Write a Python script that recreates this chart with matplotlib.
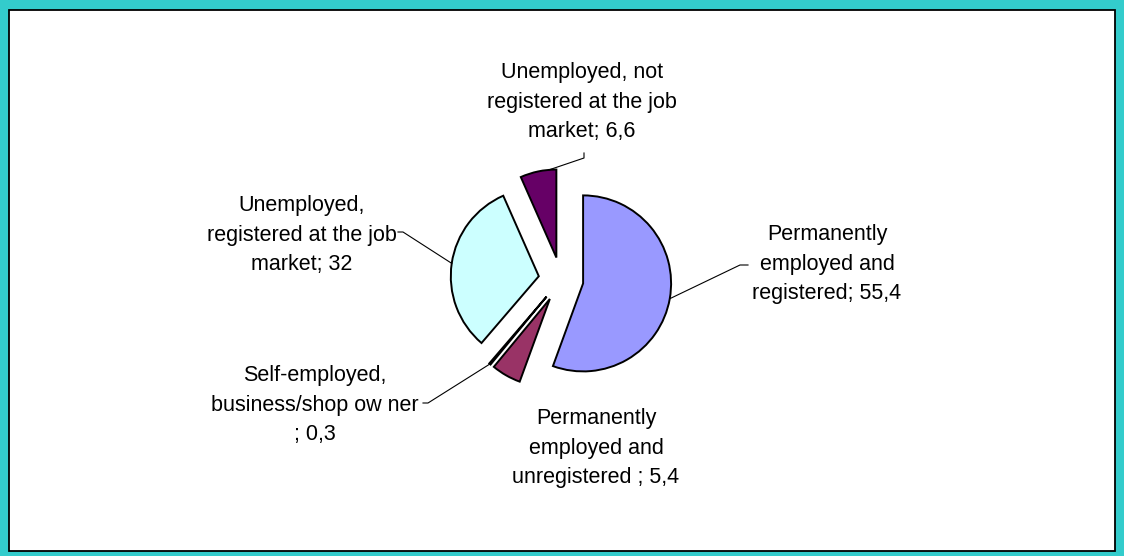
import numpy as np
import matplotlib
matplotlib.use("Agg")
import matplotlib.pyplot as plt
from matplotlib.patches import Rectangle

# Datos del gráfico (porcentajes)
categorias = [
    "Permanently\nemployed and\nregistered",
    "Permanently\nemployed and\nunregistered ",
    "Self-employed,\nbusiness/shop ow ner\n",
    "Unemployed,\nregistered at the job\nmarket",
    "Unemployed, not\nregistered at the job\nmarket",
]
valores = [55.4, 5.4, 0.3, 32, 6.6]
colores = ["#9999FF", "#993366", "#FFFFCC", "#CCFFFF", "#660066"]

# Lienzo en píxeles (y hacia arriba)
W, H = 1124, 556
fig = plt.figure(figsize=(W / 100, H / 100), dpi=100, facecolor="#33CCCC")
ax = fig.add_axes([0, 0, 1, 1])
ax.axis("off")

# Recuadro blanco del área del gráfico
ax.add_patch(Rectangle((9, H - 551), 1106, 541, facecolor="white",
                       edgecolor="black", linewidth=1.3, zorder=0))

centro = (561, H - 279.5)
R = 88
sep = 0.255 * R

ax.pie(valores, colors=colores, radius=R, center=centro, startangle=90,
       counterclock=False, explode=[sep] * len(valores), frame=True,
       wedgeprops=dict(edgecolor="black", linewidth=1.4))
ax.set_xlim(0, W)
ax.set_ylim(0, H)
ax.set_aspect("equal")

# Posición de las etiquetas (x centro, línea base de la última línea)
pos_etiq = [(827, 299), (596, 483), (315, 440), (302, 270), (582, 137)]
# Tramo inicial de cada línea guía y punto del arco al que apunta
guia_ini = [[(748, 265), (740, 265)], None, [(423, 403), (428, 403)],
            [(398, 232), (403, 232)], [(584, 153), (584, 158)]]
guia_frac = [0.5, None, 0.5, 0.5, 0.8]

total = sum(valores)
acum = np.concatenate([[0], np.cumsum(valores)]) / total
for i, (cat, v) in enumerate(zip(categorias, valores)):
    txt = cat + "; " + f"{v:g}".replace(".", ",")
    x, y = pos_etiq[i]
    ax.text(x, H - y, txt, ha="center", va="baseline", multialignment="center",
            fontsize=15.5, family="Liberation Sans", linespacing=1.52)

    if guia_ini[i] is None:
        continue
    t1 = 90 - 360 * acum[i]
    t2 = 90 - 360 * acum[i + 1]
    tm = np.radians((t1 + t2) / 2)
    ta = np.radians(t1 + guia_frac[i] * (t2 - t1))
    vx = centro[0] + sep * np.cos(tm) + R * np.cos(ta)
    vy = centro[1] + sep * np.sin(tm) + R * np.sin(ta)
    xs = [p[0] for p in guia_ini[i]] + [vx]
    ys = [H - p[1] for p in guia_ini[i]] + [vy]
    ax.plot(xs, ys, color="black", linewidth=0.8, zorder=3)

fig.savefig("out.png", dpi=100, facecolor=fig.get_facecolor())
